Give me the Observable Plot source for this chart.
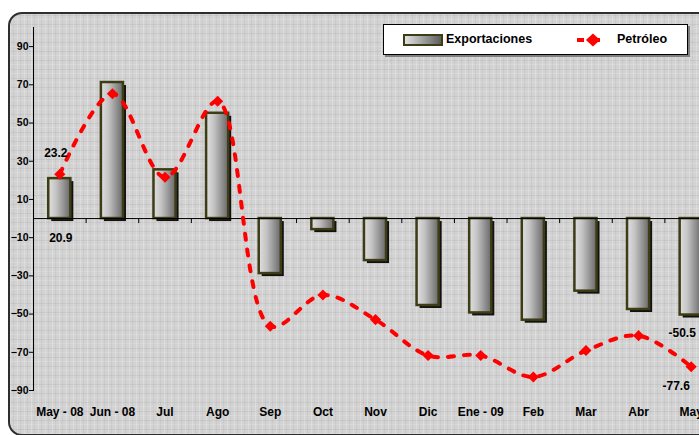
<!DOCTYPE html>
<html><head><meta charset="utf-8">
<script src="https://cdn.jsdelivr.net/npm/d3@7"></script>
<script src="https://cdn.jsdelivr.net/npm/@observablehq/plot@0.6"></script>
<style>
html,body{margin:0;padding:0;background:#fff;width:699px;height:435px;overflow:hidden;}
#wrap{position:relative;width:699px;height:435px;overflow:hidden;font-family:"Liberation Sans",Arial,sans-serif;}
#bg{position:absolute;left:8px;top:12px;width:740px;height:424px;box-sizing:border-box;border:2px solid #2e2e2e;border-radius:14px;
background-color:#d2d2d2;
background-image:
 repeating-linear-gradient(90deg, rgba(255,255,255,0.22) 0 1px, transparent 1px 3px, rgba(0,0,0,0.04) 3px 4px, transparent 4px 7px),
 repeating-linear-gradient(0deg, rgba(255,255,255,0.15) 0 1px, transparent 1px 4px, rgba(0,0,0,0.05) 4px 5px, transparent 5px 9px);}
#chart{position:absolute;left:0;top:0;}
#legend{position:absolute;left:383px;top:24px;width:305px;height:31px;box-sizing:border-box;border:1px solid #000;background:#fff;box-shadow:2px 2px 0 #808080;font-weight:bold;font-size:12.5px;color:#000;}
#legend .sw{position:absolute;left:19px;top:8.5px;width:40px;height:12px;box-sizing:border-box;border:2px solid #3e3c14;background:linear-gradient(90deg,#e2e2e2,#5e5e5e);}
#legend .t{position:absolute;top:0;line-height:29px;white-space:nowrap;}
#legend svg{position:absolute;left:192px;top:7px;}
</style>
</head><body>
<div id="wrap"><div id="bg"></div><div id="chart"></div>
<div id="legend"><span class="sw"></span><span class="t" style="left:62px">Exportaciones</span>
<svg width="34" height="16"><line x1="1" y1="8" x2="33" y2="8" stroke="red" stroke-width="4" stroke-dasharray="7,9"/><path d="M10,8 L17,1.5 L24,8 L17,14.5 Z" fill="red"/></svg>
<span class="t" style="left:233px">Petróleo</span></div>
</div>
<script>
const categories = ["May - 08","Jun - 08","Jul","Ago","Sep","Oct","Nov","Dic","Ene - 09","Feb","Mar","Abr","May"];
const exportaciones = [20.9, 71.2, 25.5, 55.1, -28.8, -5.8, -22.0, -45.5, -49.4, -53.2, -38.0, -47.6, -50.5];
const petroleo = [23.2, 65.3, 21.6, 61.4, -56.4, -40.0, -52.9, -71.7, -71.7, -82.9, -69.1, -61.3, -77.6];
const yTicks = [90, 70, 50, 30, 10, -10, -30, -50, -70, -90];
const yDomain = [-90, 100];

const data = categories.map((c, i) => ({cat: c, exp: exportaciones[i], pet: petroleo[i]}));
const first = [data[0]];
const last = [data[data.length - 1]];

const xOpts = {type: "band", domain: categories, range: [33, 717], paddingInner: 0.58, paddingOuter: 0.29, round: false};
const step = Plot.scale({x: xOpts}).step;

const defs = () => {
  const d = d3.create("svg:defs");
  const g = d.append("linearGradient").attr("id", "barGrad").attr("x1", "0").attr("x2", "1").attr("y1", "0").attr("y2", "0");
  g.append("stop").attr("offset", "0%").attr("stop-color", "#e0e0e0");
  g.append("stop").attr("offset", "35%").attr("stop-color", "#c4c4c4");
  g.append("stop").attr("offset", "100%").attr("stop-color", "#686868");
  return d.node();
};

const font = {fontWeight: "bold", fontSize: 12, fill: "black"};

const chart = Plot.plot({
  width: 699,
  height: 435,
  marginLeft: 33,
  marginRight: 0,
  marginTop: 27,
  marginBottom: 45,
  style: {background: "transparent", fontFamily: "'Liberation Sans', Arial, sans-serif", color: "black", overflow: "hidden"},
  x: {...xOpts, label: null},
  y: {domain: yDomain, label: null},
  marks: [
    defs,
    Plot.barY(data, {x: "cat", y: "exp", fill: "#111", dx: 3, dy: 3}),
    Plot.barY(data, {x: "cat", y: "exp", fill: "url(#barGrad)", stroke: "#3e3c14", strokeWidth: 2.5}),
    Plot.ruleY([0], {stroke: "black", strokeWidth: 1}),
    Plot.ruleX(categories, {x: d => d, y1: 0, y2: 0, insetBottom: -5, dx: step / 2, stroke: "black"}),
    Plot.frame({anchor: "left", stroke: "black"}),
    Plot.axisY({ticks: yTicks, tickSize: 4, tickPadding: 1, fontWeight: "bold", fontSize: 10.5, label: null}),
    Plot.axisX({tickSize: 0, tickPadding: 17, fontWeight: "bold", fontSize: 12, label: null}),
    Plot.line(data, {x: "cat", y: "pet", curve: "catmull-rom", stroke: "red", strokeWidth: 4, strokeDasharray: "6,10"}),
    Plot.dot(data, {x: "cat", y: "pet", symbol: "diamond2", r: 5, fill: "red", stroke: "none"}),
    Plot.text(first, {x: "cat", y: "pet", text: d => d.pet.toFixed(1), dx: -4, dy: -21, ...font}),
    Plot.text(first, {x: "cat", y: 0, text: d => d.exp.toFixed(1), dx: 1, dy: 20, ...font}),
    Plot.text(last, {x: "cat", y: "exp", text: d => d.exp.toFixed(1), dx: -9, dy: 18, ...font}),
    Plot.text(last, {x: "cat", y: "pet", text: d => d.pet.toFixed(1), dx: -15, dy: 19, ...font})
  ]
});
document.getElementById("chart").appendChild(chart);
</script>
</body></html>
